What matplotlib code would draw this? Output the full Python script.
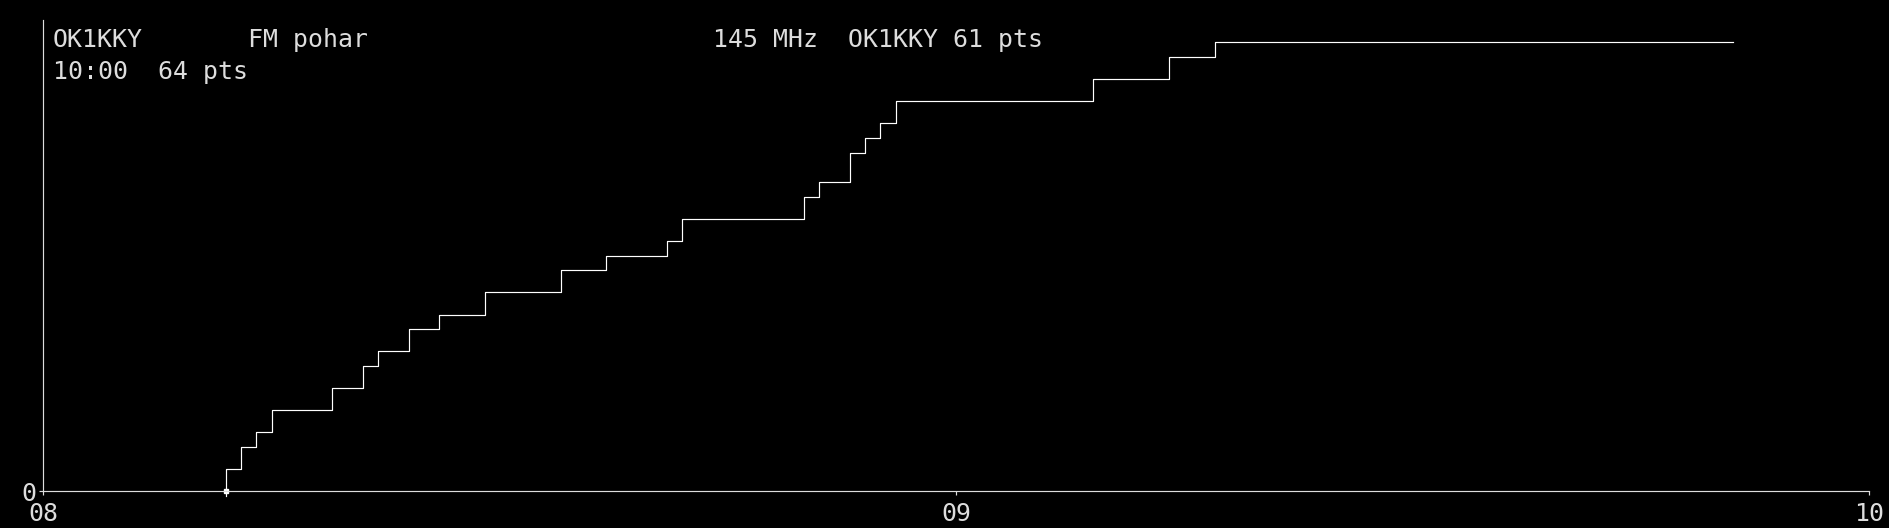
import numpy as np
import matplotlib
matplotlib.use("Agg")
import matplotlib.pyplot as plt

# QSO log: time of each contact and the points it scored
qso_times = ['08:12', '08:13', '08:14', '08:15', '08:19', '08:21', '08:22', '08:24',
             '08:26', '08:29', '08:34', '08:37', '08:41', '08:42', '08:50', '08:51',
             '08:53', '08:54', '08:55', '08:56', '09:09', '09:14', '09:17']
qso_pts = [3, 3, 2, 3, 3, 3, 2, 3, 2, 3, 3, 2, 2, 3, 3, 2, 4, 2, 2, 3, 3, 3, 2]
last_time = '09:51'

x_ticks = ['08:00', '09:00', '10:00']
x_labels = ['08', '09', '10']
y_max = 64

title_left = 'OK1KKY'
title_mid = 'FM pohar'
title_right = '145 MHz  OK1KKY 61 pts'
subtitle = '10:00  64 pts'

fg = '#dddddd'


def minutes(s):
    h, m = s.split(':')
    return (int(h) - 8) * 60 + int(m)


t = [minutes(s) for s in qso_times]
cum = np.cumsum(qso_pts)
xs = [t[0]] + t + [minutes(last_time)]
ys = [0] + list(cum) + [cum[-1]]

W, H = 1890, 528
fig = plt.figure(figsize=(W / 100, H / 100), dpi=100, facecolor='black')
ax = fig.add_axes([43.3 / W, 1 - 491.3 / H, (1869.5 - 43.3) / W, (491.3 - 20) / H])
ax.set_facecolor('black')

ax.step(xs, ys, where='post', color='white', lw=0.85)
# start marker
ax.plot([t[0], t[0]], [0, -0.6], color='white', lw=0.85, clip_on=False)
ax.plot([t[0]], [0], marker='s', ms=2.5, color='white', clip_on=False)

ax.set_xlim(0, 120)
ax.set_ylim(0, y_max)
ax.set_xticks([minutes(s) for s in x_ticks])
ax.set_xticklabels(x_labels)
ax.set_yticks([0])
ax.set_yticklabels(['0'])

for s in ['top', 'right']:
    ax.spines[s].set_visible(False)
for s in ['left', 'bottom']:
    ax.spines[s].set_color(fg)
    ax.spines[s].set_linewidth(0.85)
ax.tick_params(colors=fg, length=3, width=0.85, labelsize=17.9, pad=2)
ax.tick_params(axis='x', pad=5)
for lab in ax.get_xticklabels() + ax.get_yticklabels():
    lab.set_family('DejaVu Sans Mono')

kw = dict(color=fg, fontsize=17.9, family='DejaVu Sans Mono', va='baseline', ha='left')
fig.text(53 / W, 1 - 46.7 / H, title_left, **kw)
fig.text(248 / W, 1 - 46.7 / H, title_mid, **kw)
fig.text(713 / W, 1 - 46.7 / H, title_right, **kw)
fig.text(53 / W, 1 - 79.3 / H, subtitle, **kw)

fig.savefig('out.png', dpi=100, facecolor='black')
